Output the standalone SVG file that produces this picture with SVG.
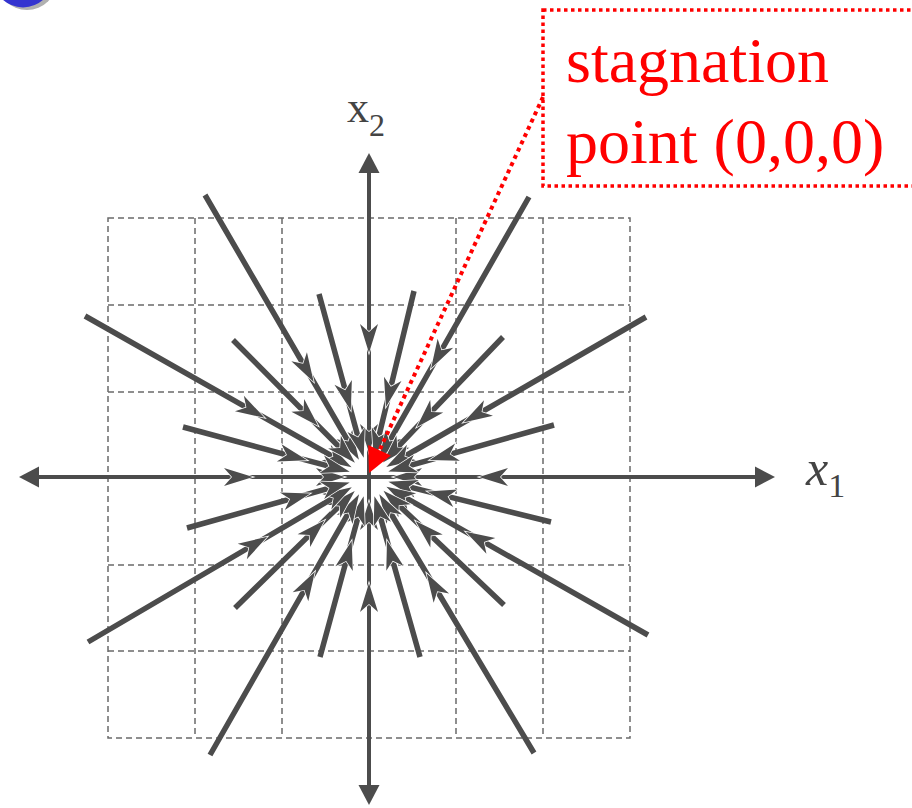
<svg xmlns="http://www.w3.org/2000/svg" width="912" height="808" viewBox="0 0 912 808">
  <style>
    .grid { fill: none; stroke: #6a6a6a; stroke-width: 1.5; stroke-dasharray: 6 4; }
    .axis { fill: none; stroke: #4c4c4c; stroke-width: 4; }
    .flow { fill: none; stroke: #4c4c4c; stroke-width: 5.5; marker-mid: url(#ah); marker-end: url(#ah); }
    .red { fill: #ff0000; font-family: "Liberation Serif", "Times New Roman", serif; font-size: 64px; }
    .lbl { fill: #444444; font-family: "Liberation Serif", "Times New Roman", serif; }
  </style>
  <defs>
    <marker id="ah" markerUnits="userSpaceOnUse" markerWidth="50" markerHeight="50" refX="21" refY="0" orient="auto" overflow="visible" viewBox="-10 -25 50 50">
      <path d="M0,-9 L29,0 L0,9 L8,0 Z" fill="#4c4c4c" stroke="#ffffff" stroke-width="1.5" stroke-linejoin="miter" paint-order="stroke"/>
    </marker>
    <marker id="axh" markerUnits="userSpaceOnUse" markerWidth="30" markerHeight="30" refX="0" refY="0" orient="auto-start-reverse" overflow="visible" viewBox="-5 -15 30 30">
      <path d="M0,-10.5 L20,0 L0,10.5 Z" fill="#4c4c4c"/>
    </marker>
  </defs>

  <g id="bullet">
    <circle cx="27" cy="-20" r="30" fill="#b0b0b0"/>
    <circle cx="23" cy="-23" r="30.4" fill="#3434d0"/>
  </g>

  <g id="grid">
    <rect class="grid" x="108" y="218" width="522" height="520"/>
    <path class="grid" d="M195,218V738 M282,218V738 M369,218V738 M456,218V738 M543,218V738 M108,305H630 M108,392H630 M108,478H630 M108,565H630 M108,651H630"/>
  </g>

  <g id="axes">
    <line class="axis" x1="39" y1="477" x2="755" y2="477" marker-start="url(#axh)" marker-end="url(#axh)"/>
    <line class="axis" x1="369" y1="173" x2="369" y2="785" marker-start="url(#axh)" marker-end="url(#axh)"/>
  </g>

  <g id="connectors">
    <path class="flow" d="M40,477 L245,477 L337,477" style="stroke-width:4"/>
    <path class="flow" d="M700,477 L487,477 L401,477" style="stroke-width:4"/>
    <path class="flow" d="M369,170 L369,345 L369,445" style="stroke-width:4"/>
    <path class="flow" d="M369,790 L369,591 L369,509" style="stroke-width:4"/>
    <path class="flow" d="M205,195 L309.7,375.0 L354.9,452.8"/>
    <path class="flow" d="M85,316 L257.7,413.9 L344.6,463.2"/>
    <path class="flow" d="M233,340 L312.6,420.2 L349.3,457.1"/>
    <path class="flow" d="M183,427 L299.5,458.3 L342.0,469.7"/>
    <path class="flow" d="M319,294 L348.7,402.7 L361.6,450.0"/>
    <path class="flow" d="M414,291 L387.8,399.3 L375.6,449.8"/>
    <path class="flow" d="M529,197 L435.0,361.5 L382.9,452.7"/>
    <path class="flow" d="M503,337 L422.2,421.4 L388.4,456.8"/>
    <path class="flow" d="M646,317 L470.3,418.5 L393.2,463.0"/>
    <path class="flow" d="M554,425 L437.3,457.8 L396.0,469.4"/>
    <path class="flow" d="M551,522 L435.0,493.3 L396.2,483.7"/>
    <path class="flow" d="M648,635 L472.6,535.6 L393.4,490.8"/>
    <path class="flow" d="M504,605 L421.3,526.6 L389.3,496.3"/>
    <path class="flow" d="M534,753 L430.6,580.0 L383.4,501.0"/>
    <path class="flow" d="M420,657 L389.2,548.2 L376.6,503.9"/>
    <path class="flow" d="M320,657 L349.6,548.4 L361.6,504.0"/>
    <path class="flow" d="M210,755 L310.9,578.6 L355.1,501.3"/>
    <path class="flow" d="M235,608 L318.9,525.9 L349.0,496.6"/>
    <path class="flow" d="M88,642 L260.4,540.8 L344.9,491.2"/>
    <path class="flow" d="M187,528 L302.6,495.6 L342.0,484.6"/>
  </g>

  <g id="label-x2">
    <text class="lbl" x="347" y="122" font-size="44">x<tspan font-size="32" dy="14">2</tspan></text>
  </g>
  <g id="label-x1">
    <text class="lbl" x="806" y="485" font-size="50" font-style="italic">x<tspan font-size="34" dy="12" font-style="normal">1</tspan></text>
  </g>

  <g id="callout">
    <rect x="543" y="10" width="420" height="176" fill="none" stroke="#ff0000" stroke-width="3.5" stroke-dasharray="3.5 3.5"/>
    <text class="red" x="566" y="82">stagnation</text>
    <text class="red" x="566" y="163">point (0,0,0)</text>
  </g>

  <g id="callout-arrow">
    <line x1="543" y1="97" x2="379.5" y2="450.3" stroke="#ff0000" stroke-width="4" stroke-dasharray="4 4"/>
    <polygon points="369,473 390.8,455.5 368.2,445.0" fill="#ff0000"/>
  </g>
</svg>
